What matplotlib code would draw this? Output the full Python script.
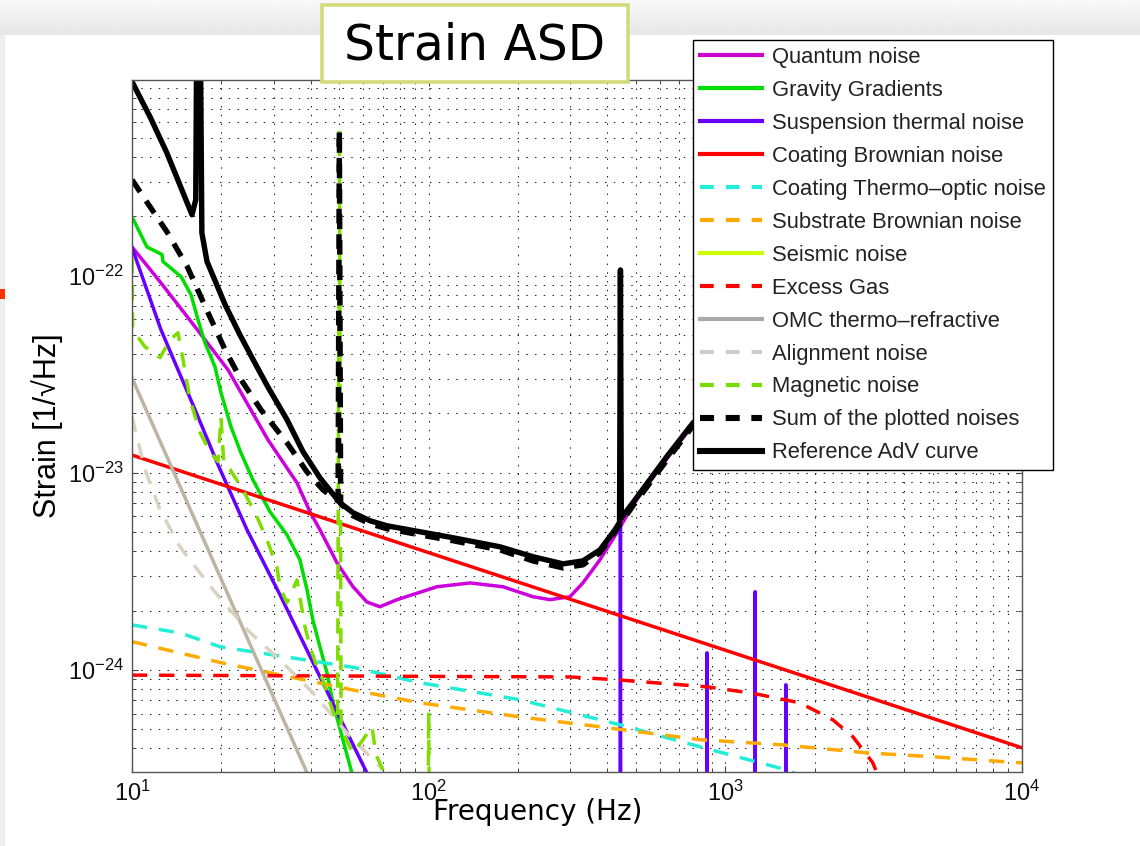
import matplotlib
matplotlib.use("Agg")
import matplotlib.pyplot as plt
import numpy as np
from matplotlib.lines import Line2D
from matplotlib.patches import Rectangle

plt.rcParams['font.family'] = ['Liberation Sans', 'DejaVu Sans']
plt.rcParams['mathtext.fontset'] = 'custom'
plt.rcParams['mathtext.rm'] = 'Liberation Sans'
plt.rcParams['mathtext.it'] = 'Liberation Sans:italic'
plt.rcParams['mathtext.bf'] = 'Liberation Sans:bold'

# ── noise budget: frequency [Hz] / strain [1/sqrt(Hz)] ─────────────────────────

quantum_f = [10, 12.52, 16.31, 21.07, 28.73, 35.98, 39.8, 43.0, 49.1, 55.6, 61.9,
             68.5, 78.2, 106.7, 137.8, 178, 224.6, 256.4, 299.4, 331, 377.9, 431,
             488.3, 635.5, 777.7, 1000, 10000]
quantum_strain = [1.40e-22, 9.2e-23, 5.51e-23, 3.33e-23, 1.47e-23, 8.9e-24, 6.34e-24,
                  5.14e-24, 3.49e-24, 2.64e-24, 2.21e-24, 2.09e-24, 2.27e-24, 2.64e-24,
                  2.76e-24, 2.64e-24, 2.35e-24, 2.27e-24, 2.35e-24, 2.76e-24, 3.62e-24,
                  4.96e-24, 6.88e-24, 1.18e-23, 1.75e-23, 2.4e-23, 2.2e-22]

gravity_f = [10, 11.23, 12.14, 12.62, 12.72, 14.63, 15.81, 16.69, 17.62, 19.04, 19.95,
             21.56, 23.3, 25.57, 29.18, 33.3, 36.8, 38.9, 40.7, 43.0, 45.4, 47.6,
             51.4, 55.1, 70]
gravity_strain = [1.99e-22, 1.40e-22, 1.32e-22, 1.28e-22, 1.18e-22, 9.9e-23, 8.01e-23,
                  5.98e-23, 4.57e-23, 3.45e-23, 2.55e-23, 1.71e-23, 1.26e-23, 9.2e-24,
                  6.34e-24, 4.84e-24, 3.62e-24, 2.55e-24, 1.79e-24, 1.31e-24, 9.66e-25,
                  6.8e-25, 4.41e-25, 3.0e-25, 1e-26]

# suspension thermal with the violin-mode peaks
susp_f = [10, 12.52, 16.31, 19.49, 24.41, 31.55, 40.74, 50.2, 61.9, 80,
          441, 443, 445, 865, 867, 869, 1258, 1260, 1262, 1598, 1600, 1602, 10000]
susp_strain = [1.39e-22, 5.32e-23, 2.09e-23, 1.10e-23, 5.14e-24, 2.40e-24, 1.09e-24,
               5.71e-25, 3.0e-25, 1e-26,
               1e-27, 5.3e-24, 1e-27, 1e-27, 1.22e-24, 1e-27, 1e-27, 2.49e-24, 1e-27,
               1e-27, 8.4e-25, 1e-27, 1e-27]

coating_f = [10, 10000]
coating_strain = [1.23e-23, 4.02e-25]

thermo_optic_f = [10, 14.5, 19.8, 55.6, 93.5, 203, 442, 820, 1615, 2000]
thermo_optic_strain = [1.69e-24, 1.54e-24, 1.31e-24, 1.03e-24, 8.6e-25, 7.05e-25,
                       5.26e-25, 4.07e-25, 3.1e-25, 2.7e-25]

substrate_f = [10, 19.8, 55.6, 93.5, 203, 378, 820, 1563, 3000, 5010, 10000]
substrate_strain = [1.39e-24, 1.09e-24, 7.9e-25, 6.8e-25, 5.77e-25, 5.14e-25, 4.42e-25,
                    4.16e-25, 3.79e-25, 3.62e-25, 3.37e-25]

seismic_f = []
seismic_strain = []

gas_f = [10, 300, 431, 867, 1240, 1783, 2305, 2693, 3143, 3400]
gas_strain = [9.4e-25, 9.2e-25, 8.9e-25, 8.2e-25, 7.6e-25, 6.8e-25, 5.57e-25, 4.57e-25,
              3.37e-25, 2.5e-25]

omc_f = [10, 38.9]
omc_strain = [3.03e-23, 3.0e-25]

align_f = [10, 11.06, 12.43, 14.51, 18.75, 24.41, 31.55, 40.74, 53.0, 70.2]
align_strain = [1.92e-23, 1.04e-23, 6.49e-24, 4.21e-24, 2.55e-24, 1.60e-24, 1.12e-24,
                7.64e-25, 4.79e-25, 3.1e-25]

magnetic_f = [10, 10.05, 11.06, 12.43, 13.43, 14.29, 14.86, 15.69, 16.95, 18.32, 19.5,
              19.95, 20.4, 21.39, 23.66, 26.38, 28.51, 30.8, 31.5, 33.3, 36.0, 36.8,
              38.3, 39.8, 42.0, 44.0, 46.5, 48.3, 49.3, 50.0, 50.7, 51.4, 55.6, 60.1,
              64.4, 66.4, 70.2, 85, 99, 100, 101, 150]
magnetic_strain = [1.23e-22, 5.32e-23, 4.36e-23, 3.84e-23, 4.73e-23, 5.14e-23, 3.75e-23,
                   2.35e-23, 1.60e-23, 1.28e-23, 1.14e-23, 1.92e-23, 1.10e-23, 1.04e-23,
                   8.2e-24, 5.98e-24, 4.57e-24, 3.33e-24, 2.64e-24, 2.19e-24, 2.86e-24,
                   2.35e-24, 1.65e-24, 1.31e-24, 1.04e-24, 8.9e-25, 6.8e-25, 5.77e-25,
                   5.5e-25, 5.5e-22, 5.0e-25, 4.78e-25, 3.79e-25, 4.42e-25, 5.14e-25,
                   3.71e-25, 3.1e-25, 1.2e-25, 5e-26, 6.1e-25, 5e-26, 1e-26]

sum_f = [10, 11.5, 13.12, 15.32, 18.04, 20.59, 23.3, 27.2, 33.3, 38.9, 44.0, 48.7,
         49.5, 50.0, 50.5, 51.4, 55.6, 63.4, 72.4, 93.5, 120.8, 174, 224.6, 283.6,
         331, 377.9, 424.6, 488.3, 635.5, 777.7, 1000, 10000]
sum_strain = [3.07e-22, 2.24e-22, 1.67e-22, 1.12e-22, 6.49e-23, 4.21e-23, 2.97e-23,
              2.09e-23, 1.42e-23, 1.01e-23, 8.2e-24, 7.3e-24, 7.2e-24, 5.5e-22, 7.0e-24,
              6.8e-24, 6.05e-24, 5.51e-24, 5.2e-24, 4.84e-24, 4.52e-24, 4.06e-24,
              3.57e-24, 3.29e-24, 3.41e-24, 3.93e-24, 5.02e-24, 6.8e-24, 1.16e-23,
              1.73e-23, 2.4e-23, 2.2e-22]

ref_f = [10, 11.5, 13.1, 14.86, 15.93, 16.4, 16.6, 16.9, 17.2, 17.9, 18.75, 20.6, 23.1,
         25.6, 28.7, 33.3, 37.7, 43.0, 50.2, 55.6, 63.4, 72.4, 93.5, 120.8, 174, 224.6,
         283.6, 331, 377.9, 424.6, 440, 443, 446, 488, 635.5, 777.7, 1000, 10000]
ref_strain = [9.66e-22, 6.41e-22, 4.21e-22, 2.64e-22, 2.04e-22, 2.43e-22, 5e-21, 5e-21,
              1.65e-22, 1.18e-22, 1.0e-22, 7.13e-23, 5.02e-23, 3.75e-23, 2.73e-23,
              1.86e-23, 1.28e-23, 9.43e-24, 7.05e-24, 6.27e-24, 5.71e-24, 5.38e-24,
              5.02e-24, 4.68e-24, 4.21e-24, 3.75e-24, 3.45e-24, 3.57e-24, 4.06e-24,
              5.14e-24, 5.6e-24, 1.07e-22, 5.9e-24, 7.05e-24, 1.21e-23, 1.79e-23,
              2.5e-23, 2.3e-22]

labels = ["Quantum noise", "Gravity Gradients", "Suspension thermal noise",
          "Coating Brownian noise", "Coating Thermo\u2013optic noise",
          "Substrate Brownian noise", "Seismic noise", "Excess Gas",
          "OMC thermo\u2013refractive", "Alignment noise", "Magnetic noise",
          "Sum of the plotted noises", "Reference AdV curve"]

# ── figure ─────────────────────────────────────────────────────────────────────

W, H = 1140, 846
fig = plt.figure(figsize=(W / 100, H / 100), dpi=100)
fig.patch.set_facecolor("white")

# slide background: shaded strip on top, thin grey strip on the left
bg = fig.add_axes([0, 0, 1, 1], zorder=-10)
bg.set_xlim(0, 1)
bg.set_ylim(0, 1)
bg.axis("off")
grad = np.linspace(0.975, 0.905, 40).reshape(-1, 1)
bg.imshow(grad, extent=[0, 1, 1 - 35 / H, 1], aspect="auto", cmap="gray",
          vmin=0, vmax=1, interpolation="bilinear")
bg.add_patch(Rectangle((0, 0), 5 / W, 1 - 35 / H, color="#eeeeee", lw=0))
bg.add_patch(Rectangle((0, 1 - 299 / H), 5 / W, 10 / H, color="#ff3300", lw=0))

ax = fig.add_axes([132 / W, 74 / H, 890 / W, 692 / H])
ax.set_xscale("log")
ax.set_yscale("log")

LW = 2.5
DASH = (4.4, 3.4)
BLW = 3.9

ax.plot(quantum_f, quantum_strain, color="#cc00dd", lw=LW)
ax.plot(gravity_f, gravity_strain, color="#00dd00", lw=LW)
ax.plot(susp_f, susp_strain, color="#6600ff", lw=LW)
ax.plot(coating_f, coating_strain, color="#ff0000", lw=LW)
ax.plot(thermo_optic_f, thermo_optic_strain, color="#22eed8", lw=LW, dashes=DASH)
ax.plot(substrate_f, substrate_strain, color="#ffaa00", lw=LW, dashes=DASH)
ax.plot(seismic_f, seismic_strain, color="#ccff00", lw=LW)
ax.plot(gas_f, gas_strain, color="#ff0000", lw=LW, dashes=DASH)
ax.plot(omc_f, omc_strain, color="#bdb4a2", lw=LW)
ax.plot(align_f, align_strain, color="#dad2c0", lw=LW, dashes=DASH)
ax.plot(magnetic_f, magnetic_strain, color="#80dd00", lw=LW, dashes=DASH)
ax.plot(sum_f, sum_strain, color="black", lw=BLW, dashes=(2.7, 2.0))
ax.plot(ref_f, ref_strain, color="black", lw=BLW)

ax.set_xlim(10, 1e4)
ax.set_ylim(3.03e-25, 9.85e-22)

ax.set_axisbelow(True)
ax.grid(True, which="both", color="#222222", lw=0.75, linestyle=(0, (1.4, 7.0)))
ax.tick_params(which="both", direction="in", top=True, right=True, color="#444444",
               labelsize=17, labelcolor="#111111")
ax.tick_params(which="major", length=4.5, width=0.8, pad=6)
ax.tick_params(which="minor", length=2.6, width=0.7)
for s in ax.spines.values():
    s.set_color("#555555")
    s.set_linewidth(1.0)

ax.set_ylabel("Strain [1/\u221aHz]", fontsize=22, labelpad=3)

# legend keys (OMC and alignment use plain grey swatches)
key_styles = [
    ("#cc00cc", "-"), ("#00dd00", "-"), ("#6600ff", "-"), ("#ff0000", "-"),
    ("#22eed8", "--"), ("#ffaa00", "--"), ("#ccff00", "-"), ("#ff0000", "--"),
    ("#aaaaaa", "-"), ("#cccccc", "--"), ("#77dd00", "--"), ("black", "--"),
    ("black", "-"),
]
handles = []
for c, ls in key_styles:
    w = 4.4 if c == "black" else 3.0
    h = Line2D([], [], color=c, lw=w)
    if ls == "--":
        h.set_dashes((3.3, 2.9) if c != "black" else (2.3, 1.9))
    handles.append(h)

leg = ax.legend(handles, labels, loc="upper left", bbox_to_anchor=(0.630, 1.058),
                borderaxespad=0, fontsize=15.8, handlelength=2.85, handletextpad=0.45,
                labelspacing=0.545, borderpad=0.32, fancybox=False, framealpha=1,
                edgecolor="black")
leg.get_frame().set_linewidth(1.0)
for t in leg.get_texts():
    t.set_color("#222222")

fig.text(538 / W, 1 - 812 / H, "Frequency (Hz)", family="DejaVu Sans", fontsize=20,
         ha="center", va="center", color="black")

# title box
fig.patches.append(Rectangle((322 / W, 1 - 82 / H), 306 / W, 77 / H,
                             transform=fig.transFigure, facecolor="white",
                             edgecolor="#d3da7c", lw=2.6, zorder=5))
fig.text(475 / W, 1 - 45 / H, "Strain ASD", family="DejaVu Sans", fontsize=35,
         ha="center", va="center", color="black", zorder=6)

fig.savefig("out.png", dpi=100)
